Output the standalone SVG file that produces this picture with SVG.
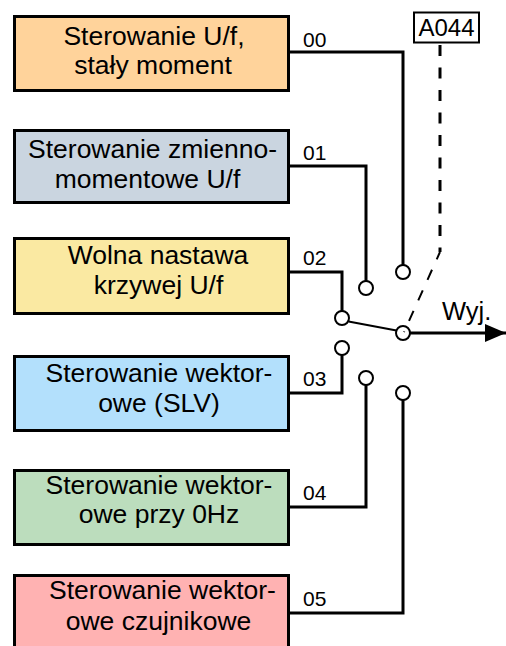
<svg xmlns="http://www.w3.org/2000/svg" width="506" height="646" viewBox="0 0 506 646">
<style>
.box{stroke:#000;stroke-width:3}
.bt{font-family:"Liberation Sans",Arial,sans-serif;font-size:26.5px;fill:#000;text-anchor:middle}
.lb{font-family:"Liberation Sans",Arial,sans-serif;font-size:21px;fill:#000}
.big{font-size:24px}
.wy{font-size:25.5px}
.w{fill:none;stroke:#000;stroke-width:3}
.c{fill:#fff;stroke:#000;stroke-width:2}
.d{fill:none;stroke:#000;stroke-dasharray:11 11.5}
</style>
<defs>
<marker id="ah" markerUnits="userSpaceOnUse" markerWidth="22" markerHeight="18" refX="21" refY="9" orient="auto">
<path d="M0,0 L21,9 L0,18 Z" fill="#000"/>
</marker>
</defs>
<rect width="506" height="646" fill="#fff"/>
<g id="n00">
<rect class="box" x="14.5" y="16.5" width="274" height="74" fill="#FFD39B"/>
<text class="bt" x="154" y="45">Sterowanie U/f,</text>
<text class="bt" x="153" y="74">stały moment</text>
</g>
<g id="n01">
<rect class="box" x="14.5" y="130.5" width="274" height="72" fill="#CAD5E0"/>
<text class="bt" x="152.5" y="158">Sterowanie zmienno-</text>
<text class="bt" x="147.5" y="188">momentowe U/f</text>
</g>
<g id="n02">
<rect class="box" x="14.5" y="238.5" width="274" height="75" fill="#FAE9A2"/>
<text class="bt" x="158" y="264">Wolna nastawa</text>
<text class="bt" x="158.5" y="294">krzywej U/f</text>
</g>
<g id="n03">
<rect class="box" x="14.5" y="356.5" width="274" height="74" fill="#B3E0FC"/>
<text class="bt" x="159" y="382">Sterowanie wektor-</text>
<text class="bt" x="159" y="412">owe (SLV)</text>
</g>
<g id="n04">
<rect class="box" x="14.5" y="470.5" width="274" height="74" fill="#BCDDBD"/>
<text class="bt" x="159" y="494">Sterowanie wektor-</text>
<text class="bt" x="159" y="523">owe przy 0Hz</text>
</g>
<g id="n05">
<rect class="box" x="14.5" y="575.5" width="274" height="80" fill="#FFB2B2"/>
<text class="bt" x="162.5" y="599">Sterowanie wektor-</text>
<text class="bt" x="158.5" y="630">owe czujnikowe</text>
</g>
<g id="a044">
<rect x="414" y="12.5" width="65" height="30" fill="#fff" stroke="#000" stroke-width="2"/>
<text class="lb big" x="446.5" y="35.5" text-anchor="middle">A044</text>
</g>
<g id="connectors">
<polyline class="w" points="290,52 403,52 403,265"/>
<polyline class="w" points="290,166 366,166 366,281"/>
<polyline class="w" points="290,272 342,272 342,311"/>
<polyline class="w" points="290,393 342,393 342,355"/>
<polyline class="w" points="290,507 366,507 366,385"/>
<polyline class="w" points="290,613 403,613 403,400"/>
<line x1="348.5" y1="321.5" x2="396.5" y2="330.5" stroke="#000" stroke-width="2"/>
<line x1="410" y1="333" x2="506" y2="333" stroke="#000" stroke-width="3" marker-end="url(#ah)"/>
<line class="d" x1="440" y1="45" x2="440" y2="252" stroke-width="3"/>
<line class="d" x1="440" y1="252" x2="404" y2="332" stroke-width="2" stroke-dashoffset="3"/>
<circle class="c" cx="403" cy="272" r="7"/>
<circle class="c" cx="366" cy="288" r="7"/>
<circle class="c" cx="342" cy="318" r="7"/>
<circle class="c" cx="342" cy="348" r="7"/>
<circle class="c" cx="366" cy="378" r="7"/>
<circle class="c" cx="403" cy="393" r="7"/>
<circle cx="403" cy="333" r="7" fill="none" stroke="#000" stroke-width="2"/>
<text class="lb" x="303" y="47">00</text>
<text class="lb" x="303" y="160">01</text>
<text class="lb" x="303" y="265">02</text>
<text class="lb" x="303" y="386">03</text>
<text class="lb" x="303" y="500">04</text>
<text class="lb" x="303" y="606">05</text>
<text class="lb wy" x="442" y="320">Wyj.</text>
</g>
</svg>
